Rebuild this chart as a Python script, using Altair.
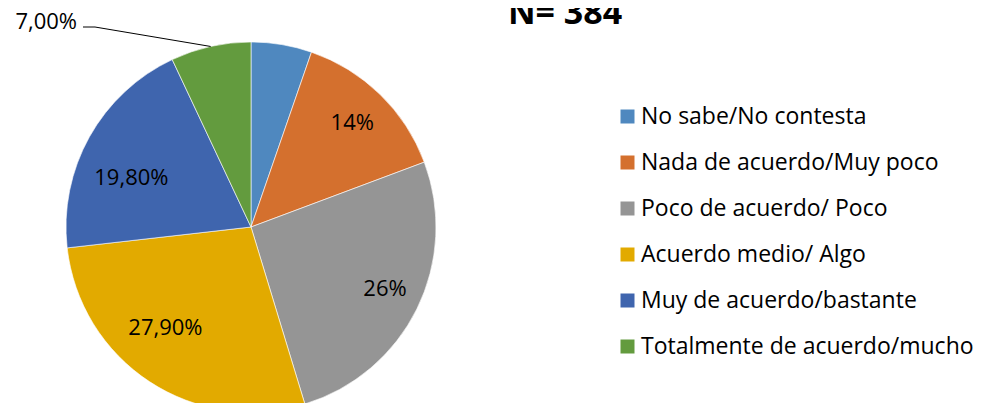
import altair as alt
import pandas as pd

categories = [
    "No sabe/No contesta",
    "Nada de acuerdo/Muy poco",
    "Poco de acuerdo/ Poco",
    "Acuerdo medio/ Algo",
    "Muy de acuerdo/bastante",
    "Totalmente de acuerdo/mucho",
]
values = [5.3, 14.0, 26.0, 27.9, 19.8, 7.0]
labels = ["", "14%", "26%", "27,90%", "19,80%", "7,00%"]
colors = ["#4F88BF", "#D4702E", "#959595", "#E2AA00", "#3F65AE", "#639B3E"]
title_text = "N= 384"

df = pd.DataFrame({
    "idx": list(range(len(categories))),
    "cat": categories,
    "value": values,
    "label": labels,
})

CX, CY, R, RL = 243, 219, 185, 145
FONT = "Open Sans"

base = alt.Chart(df).transform_window(
    cum="sum(value)", sort=[alt.SortField("idx")]
).transform_joinaggregate(
    total="sum(value)"
).transform_calculate(
    mid="(datum.cum - datum.value/2) / datum.total * 2 * PI",
).transform_calculate(
    lx=f"{CX} + {RL} * sin(datum.mid)",
    ly=f"{CY} - {RL} * cos(datum.mid)",
    ex=f"{CX} + {R} * sin(datum.mid)",
    ey=f"{CY} - {R} * cos(datum.mid)",
)

pie = base.mark_arc(outerRadius=R, stroke="white", strokeWidth=0.6).encode(
    theta=alt.Theta("value:Q", stack=True),
    order=alt.Order("idx:Q"),
    color=alt.Color(
        "cat:N",
        sort=categories,
        scale=alt.Scale(domain=categories, range=colors),
        legend=alt.Legend(
            title=None,
            orient="none",
            legendX=608,
            legendY=97,
            symbolType="square",
            symbolSize=196,
            symbolStrokeWidth=0,
            labelFont=FONT,
            labelFontSize=23,
            labelColor="#000000",
            labelOffset=2,
            rowPadding=22,
            padding=0,
            labelLimit=400,
        ),
    ),
    x=alt.value(CX),
    y=alt.value(CY),
)

def label_layer(i, dx=0, dy=0):
    return base.transform_filter(f"datum.idx == {i}").mark_text(
        font=FONT, fontSize=22, color="#000000", align="center", baseline="middle",
        dx=dx, dy=dy,
    ).encode(
        x=alt.X("lx:Q", scale=None),
        y=alt.Y("ly:Q", scale=None),
        text="label:N",
    )

lab_orange = label_layer(1, 0, 0)
lab_gray = label_layer(2, 4, -2)
lab_yellow = label_layer(3, -6, -20)
lab_blue = label_layer(4, 7, 22)

# outside label for last slice with leader line
leader = base.transform_filter("datum.idx == 5").mark_rule(color="#000000", strokeWidth=1).encode(
    x=alt.X("ex:Q", scale=None),
    y=alt.Y("ey:Q", scale=None),
    x2=alt.value(87),
    y2=alt.value(19),
)
leader_h = base.transform_filter("datum.idx == 5").mark_rule(color="#000000", strokeWidth=1).encode(
    x=alt.value(75),
    x2=alt.value(87),
    y=alt.value(19),
)
lab_green = base.transform_filter("datum.idx == 5").mark_text(
    font=FONT, fontSize=22, color="#000000", align="right", baseline="middle",
).encode(
    x=alt.value(69),
    y=alt.value(14),
    text="label:N",
)

title = alt.Chart(pd.DataFrame({"t": [title_text]})).mark_text(
    font=FONT, fontSize=34, fontWeight="bold", color="#000000",
    align="center", baseline="alphabetic",
).encode(
    x=alt.value(557),
    y=alt.value(16),
    text="t:N",
)

chart = alt.layer(
    pie, lab_orange, lab_gray, lab_yellow, lab_blue, leader, leader_h, lab_green, title
).properties(
    width=970, height=395, autosize=alt.AutoSizeParams(type="none"), padding=0,
    background="white",
).configure_view(stroke=None, strokeWidth=0)

chart.save("out.html", embed_options={"renderer": "svg", "actions": False})
